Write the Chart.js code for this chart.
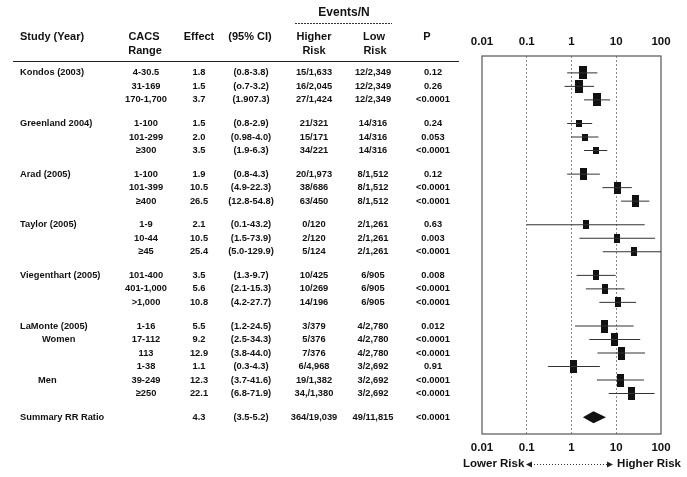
<!DOCTYPE html>
<html>
<head>
<meta charset="utf-8">
<script src="https://cdn.jsdelivr.net/npm/chart.js@4.4.1/dist/chart.umd.min.js"></script>
<style>
body { margin: 0; background: #fff; }
#wrap { width: 687px; height: 477px; }
</style>
</head>
<body>
<div id="wrap"><canvas id="forestChart" width="687" height="477"></canvas></div>
<script>
// table rows, one entry per row
var studies = ['Kondos (2003)', '', '', 'Greenland 2004)', '', '', 'Arad (2005)', '', '', 'Taylor (2005)', '', '',
    'Viegenthart (2005)', '', '', 'LaMonte (2005)', '', '', '', '', ''];
var subgroups = ['', '', '', '', '', '', '', '', '', '', '', '', '', '', '', '', 'Women', '', '', 'Men', ''];
var cacsRange = ['4-30.5', '31-169', '170-1,700', '1-100', '101-299', '\u2265300', '1-100', '101-399', '\u2265400',
    '1-9', '10-44', '\u226545', '101-400', '401-1,000', '>1,000', '1-16', '17-112', '113', '1-38', '39-249', '\u2265250'];
var effect = [1.8, 1.5, 3.7, 1.5, 2.0, 3.5, 1.9, 10.5, 26.5, 2.1, 10.5, 25.4, 3.5, 5.6, 10.8, 5.5, 9.2, 12.9, 1.1, 12.3, 22.1];
var ciLow = [0.8, 0.7, 1.9, 0.8, 0.98, 1.9, 0.8, 4.9, 12.8, 0.1, 1.5, 5.0, 1.3, 2.1, 4.2, 1.2, 2.5, 3.8, 0.3, 3.7, 6.8];
var ciHigh = [3.8, 3.2, 7.3, 2.9, 4.0, 6.3, 4.3, 22.3, 54.8, 43.2, 73.9, 129.9, 9.7, 15.3, 27.7, 24.5, 34.3, 44.0, 4.3, 41.6, 71.9];
var ciText = ['(0.8-3.8)', '(o.7-3.2)', '(1.907.3)', '(0.8-2.9)', '(0.98-4.0)', '(1.9-6.3)', '(0.8-4.3)', '(4.9-22.3)',
    '(12.8-54.8)', '(0.1-43.2)', '(1.5-73.9)', '(5.0-129.9)', '(1.3-9.7)', '(2.1-15.3)', '(4.2-27.7)', '(1.2-24.5)',
    '(2.5-34.3)', '(3.8-44.0)', '(0.3-4.3)', '(3.7-41.6)', '(6.8-71.9)'];
var eventsHigher = ['15/1,633', '16/2,045', '27/1,424', '21/321', '15/171', '34/221', '20/1,973', '38/686', '63/450',
    '0/120', '2/120', '5/124', '10/425', '10/269', '14/196', '3/379', '5/376', '7/376', '6/4,968', '19/1,382', '34,/1,380'];
var eventsLow = ['12/2,349', '12/2,349', '12/2,349', '14/316', '14/316', '14/316', '8/1,512', '8/1,512', '8/1,512',
    '2/1,261', '2/1,261', '2/1,261', '6/905', '6/905', '6/905', '4/2,780', '4/2,780', '4/2,780', '3/2,692', '3/2,692', '3/2,692'];
var pValues = ['0.12', '0.26', '<0.0001', '0.24', '0.053', '<0.0001', '0.12', '<0.0001', '<0.0001', '0.63', '0.003',
    '<0.0001', '0.008', '<0.0001', '<0.0001', '0.012', '<0.0001', '<0.0001', '0.91', '<0.0001', '<0.0001'];

// summary row
var summaryLabel = 'Summary RR Ratio';
var summaryEffect = 4.3;
var summaryCI = '(3.5-5.2)';
var summaryHigher = '364/19,039';
var summaryLow = '49/11,815';
var summaryP = '<0.0001';
// summary diamond as it is drawn in the plot: low end, peak, high end
var diamond = [1.8, 3.1, 5.9];

var tickValues = [0.01, 0.1, 1, 10, 100];

// marker box size (w, h) per study
var boxSize = {
    'Kondos (2003)': [8, 13],
    'Greenland 2004)': [6, 7],
    'Arad (2005)': [7, 12],
    'Taylor (2005)': [6, 9],
    'Viegenthart (2005)': [6, 10],
    'LaMonte (2005)': [7, 13]
};

// row positions: one unit per row, extra gap before each new study
var rowY = [];
var yy = 0;
for (var i = 0; i < studies.length; i++) {
    if (i > 0) yy += studies[i] ? 1.75 : 1;
    rowY.push(yy);
}
var summaryY = yy + 1.75;

var boxes = [];
var current = '';
for (i = 0; i < studies.length; i++) {
    if (studies[i]) current = studies[i];
    var sz = boxSize[current];
    var c = document.createElement('canvas');
    c.width = sz[0];
    c.height = sz[1];
    var cx = c.getContext('2d');
    cx.fillStyle = '#111';
    cx.fillRect(0, 0, sz[0], sz[1]);
    boxes.push(c);
}

var whiskerData = [];
var pointData = [];
for (i = 0; i < effect.length; i++) {
    whiskerData.push({x: ciLow[i], y: rowY[i]}, {x: ciHigh[i], y: rowY[i]}, {x: null, y: null});
    pointData.push({x: effect[i], y: rowY[i]});
}

var TXT = '#111';
var FONT = 'Liberation Sans, Arial, sans-serif';

var tablePlugin = {
    id: 'tablePlugin',
    beforeDatasetsDraw: function(chart) {
        var a = chart.chartArea, ctx = chart.ctx;
        ctx.save();
        ctx.strokeStyle = '#555';
        ctx.lineWidth = 1.2;
        ctx.strokeRect(a.left, a.top, a.right - a.left, a.bottom - a.top);
        ctx.restore();
    },
    afterDatasetsDraw: function(chart) {
        var ctx = chart.ctx, xs = chart.scales.x, ys = chart.scales.y;
        var yd = ys.getPixelForValue(summaryY);
        ctx.save();
        ctx.fillStyle = '#111';
        ctx.beginPath();
        ctx.moveTo(xs.getPixelForValue(diamond[0]), yd);
        ctx.lineTo(xs.getPixelForValue(diamond[1]), yd - 6);
        ctx.lineTo(xs.getPixelForValue(diamond[2]), yd);
        ctx.lineTo(xs.getPixelForValue(diamond[1]), yd + 6);
        ctx.closePath();
        ctx.fill();
        ctx.restore();
    },
    afterDraw: function(chart) {
        var ctx = chart.ctx, ys = chart.scales.y;
        ctx.save();
        ctx.fillStyle = TXT;
        ctx.textBaseline = 'middle';

        // header
        ctx.font = 'bold 12px ' + FONT;
        ctx.textAlign = 'center';
        ctx.fillText('Events/N', 344, 13);
        ctx.strokeStyle = '#333';
        ctx.lineWidth = 1;
        ctx.setLineDash([2, 1]);
        ctx.beginPath();
        ctx.moveTo(295, 23.5);
        ctx.lineTo(392, 23.5);
        ctx.stroke();
        ctx.setLineDash([]);

        ctx.font = 'bold 11px ' + FONT;
        ctx.textAlign = 'left';
        ctx.fillText('Study (Year)', 20, 37);
        ctx.textAlign = 'center';
        ctx.fillText('CACS', 144, 37);
        ctx.fillText('Range', 145, 51);
        ctx.fillText('Effect', 199, 37);
        ctx.fillText('(95% CI)', 250, 37);
        ctx.fillText('Higher', 314, 37);
        ctx.fillText('Risk', 314, 51);
        ctx.fillText('Low', 374, 37);
        ctx.fillText('Risk', 375, 51);
        ctx.fillText('P', 427, 37);

        ctx.strokeStyle = '#222';
        ctx.lineWidth = 1.2;
        ctx.beginPath();
        ctx.moveTo(13, 61.5);
        ctx.lineTo(459, 61.5);
        ctx.stroke();

        // rows
        ctx.font = 'bold 9.3px ' + FONT;
        for (var i = 0; i < studies.length; i++) {
            var y = ys.getPixelForValue(rowY[i]);
            ctx.textAlign = 'left';
            if (studies[i]) ctx.fillText(studies[i], 20, y);
            if (subgroups[i]) ctx.fillText(subgroups[i], subgroups[i] === 'Men' ? 38 : 42, y);
            ctx.textAlign = 'center';
            ctx.fillText(cacsRange[i], 146, y);
            ctx.fillText(effect[i].toFixed(1), 199, y);
            ctx.fillText(ciText[i], 251, y);
            ctx.fillText(eventsHigher[i], 314, y);
            ctx.fillText(eventsLow[i], 373, y);
            ctx.fillText(pValues[i], 433, y);
        }
        var ys2 = ys.getPixelForValue(summaryY);
        ctx.textAlign = 'left';
        ctx.fillText(summaryLabel, 20, ys2);
        ctx.textAlign = 'center';
        ctx.fillText(summaryEffect.toFixed(1), 199, ys2);
        ctx.fillText(summaryCI, 251, ys2);
        ctx.fillText(summaryHigher, 314, ys2);
        ctx.fillText(summaryLow, 373, ys2);
        ctx.fillText(summaryP, 433, ys2);

        // risk direction under the axis
        var yr = 464;
        ctx.font = 'bold 11.5px ' + FONT;
        ctx.textAlign = 'left';
        ctx.fillText('Lower Risk', 463, yr);
        ctx.textAlign = 'right';
        ctx.fillText('Higher Risk', 681, yr);
        ctx.strokeStyle = '#333';
        ctx.lineWidth = 1;
        ctx.setLineDash([1, 2]);
        ctx.beginPath();
        ctx.moveTo(531, yr + 0.5);
        ctx.lineTo(608, yr + 0.5);
        ctx.stroke();
        ctx.setLineDash([]);
        ctx.fillStyle = '#222';
        ctx.beginPath();
        ctx.moveTo(526, yr + 0.5);
        ctx.lineTo(532, yr - 2.5);
        ctx.lineTo(532, yr + 3.5);
        ctx.closePath();
        ctx.fill();
        ctx.beginPath();
        ctx.moveTo(613, yr + 0.5);
        ctx.lineTo(607, yr - 2.5);
        ctx.lineTo(607, yr + 3.5);
        ctx.closePath();
        ctx.fill();
        ctx.restore();
    }
};

function logAxis(pos) {
    return {
        type: 'logarithmic',
        position: pos,
        min: 0.01,
        max: 100,
        afterBuildTicks: function(scale) {
            scale.ticks = tickValues.map(function(v) { return {value: v}; });
        },
        ticks: {
            autoSkip: false,
            maxRotation: 0,
            padding: 7,
            color: TXT,
            font: {family: FONT, size: 11.5, weight: 'bold'},
            callback: function(v) { return String(v); }
        },
        grid: {
            display: pos === 'bottom',
            drawTicks: false,
            lineWidth: 1,
            color: function(c) {
                return (c.index > 0 && c.index < tickValues.length - 1) ? '#888' : 'rgba(0,0,0,0)';
            }
        },
        border: {display: false, dash: [2, 2]}
    };
}

var forestCtx = document.getElementById('forestChart').getContext('2d');
var forestChart = new Chart(forestCtx, {
    type: 'scatter',
    data: {
        datasets: [{
            label: 'CI',
            data: whiskerData,
            showLine: true,
            spanGaps: false,
            borderColor: '#333',
            borderWidth: 1,
            pointRadius: 0
        }, {
            label: 'Effect',
            data: pointData,
            pointStyle: function(c) { return boxes[c.dataIndex]; },
            pointRadius: 6,
            backgroundColor: '#111',
            borderWidth: 0
        }]
    },
    options: {
        responsive: false,
        animation: false,
        layout: {padding: {left: 482, right: 26, top: 28.2, bottom: 15.2}},
        plugins: {legend: {display: false}, tooltip: {enabled: false}},
        scales: {
            x: logAxis('bottom'),
            x2: logAxis('top'),
            y: {
                type: 'linear',
                reverse: true,
                min: -1.25,
                max: 26.75,
                display: false
            }
        }
    },
    plugins: [tablePlugin]
});
</script>
</body>
</html>
